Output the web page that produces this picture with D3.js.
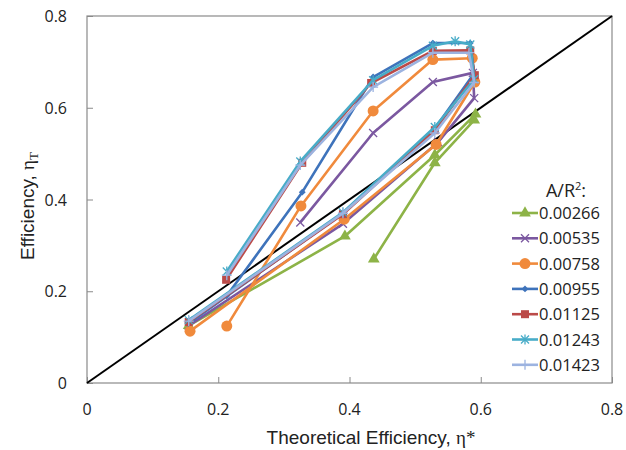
<!DOCTYPE html>
<html>
<head>
<meta charset="utf-8">
<script src="https://cdn.jsdelivr.net/npm/d3@7"></script>
<style>
  body { margin: 0; background: #fff; }
  text { font-family: "Open Sans", "Liberation Sans", Arial, sans-serif; fill: #222; }
</style>
</head>
<body>
<div id="chart"></div>
<script>
// series names (A/R^2) in legend order
var seriesNames = ["0.00266", "0.00535", "0.00758", "0.00955", "0.01125", "0.01243", "0.01423"];

// points: [theoretical efficiency, efficiency]
var s00266 = [[0.155,0.125],[0.393,0.32],[0.53,0.497],[0.592,0.586],[0.59,0.573],[0.53,0.48],[0.437,0.27]];
var s00535 = [[0.155,0.125],[0.39,0.347],[0.535,0.525],[0.59,0.621],[0.588,0.676],[0.527,0.656],[0.436,0.545],[0.325,0.35]];
var s00758 = [[0.157,0.113],[0.392,0.357],[0.532,0.52],[0.591,0.656],[0.587,0.708],[0.527,0.705],[0.436,0.593],[0.326,0.386],[0.213,0.124]];
var s00955 = [[0.155,0.13],[0.39,0.37],[0.53,0.555],[0.59,0.675],[0.584,0.741],[0.527,0.741],[0.436,0.667],[0.328,0.416],[0.213,0.19]];
var s01125 = [[0.155,0.133],[0.39,0.368],[0.53,0.551],[0.591,0.671],[0.584,0.725],[0.527,0.724],[0.433,0.654],[0.328,0.48],[0.212,0.225]];
var s01243 = [[0.155,0.137],[0.39,0.372],[0.53,0.558],[0.59,0.662],[0.584,0.738],[0.561,0.745],[0.527,0.735],[0.436,0.66],[0.325,0.483],[0.213,0.243]];
var s01423 = [[0.155,0.135],[0.39,0.37],[0.53,0.545],[0.59,0.655],[0.582,0.72],[0.527,0.72],[0.436,0.645],[0.325,0.475],[0.213,0.235]];

var seriesData = [s00266, s00535, s00758, s00955, s01125, s01243, s01423];
var colors = ["#8db347", "#7b58a0", "#f08a3c", "#3e73bb", "#bb4a48", "#48acc8", "#9cb3e0"];
var markers = ["triangle", "cross", "circle", "diamond", "square", "star", "plus"];

var xTicks = [0, 0.2, 0.4, 0.6, 0.8];
var yTicks = [0, 0.2, 0.4, 0.6, 0.8];

var width = 626, height = 450;
var margin = {left: 87, top: 16, right: 14, bottom: 67};

var svg = d3.select("#chart").append("svg")
    .attr("width", width)
    .attr("height", height);

var x = d3.scaleLinear().domain([0, 0.8]).range([margin.left, width - margin.right]);
var y = d3.scaleLinear().domain([0, 0.8]).range([height - margin.bottom, margin.top]);

// frame
svg.append("rect")
    .attr("x", x(0)).attr("y", y(0.8))
    .attr("width", x(0.8) - x(0)).attr("height", y(0) - y(0.8))
    .attr("fill", "none").attr("stroke", "#8a8a8a").attr("stroke-width", 1.2);

// axes, ticks pointing inward
svg.append("g")
    .attr("transform", "translate(0," + y(0) + ")")
    .call(d3.axisTop(x).tickValues(xTicks).tickSize(6).tickFormat(""));
svg.append("g")
    .attr("transform", "translate(" + x(0) + ",0)")
    .call(d3.axisRight(y).tickValues(yTicks).tickSize(6).tickFormat(""));
svg.selectAll(".domain").remove();
svg.selectAll(".tick line").attr("stroke", "#8a8a8a");

// tick labels
svg.selectAll(".xlab").data(xTicks).enter().append("text")
    .attr("x", function(d) { return x(d); })
    .attr("y", y(0) + 32)
    .attr("text-anchor", "middle")
    .style("font-size", "16px")
    .text(function(d) { return d === 0 ? "0" : d3.format(".1f")(d); });

svg.selectAll(".ylab").data(yTicks).enter().append("text")
    .attr("x", x(0) - 20)
    .attr("y", function(d) { return y(d) + 6; })
    .attr("text-anchor", "end")
    .style("font-size", "16px")
    .text(function(d) { return d === 0 ? "0" : d3.format(".1f")(d); });

// axis titles
var xt = svg.append("text")
    .attr("x", 371).attr("y", 444)
    .attr("text-anchor", "middle")
    .style("font-size", "19px")
    .style("font-family", "'Liberation Sans', Arial, sans-serif");
xt.append("tspan").text("Theoretical Efficiency, ");
xt.append("tspan").style("font-family", "'Liberation Serif', serif").text("η*");

var yt = svg.append("text")
    .attr("transform", "translate(34,206) rotate(-90)")
    .attr("text-anchor", "middle")
    .style("font-size", "19px")
    .style("font-family", "'Liberation Sans', Arial, sans-serif");
yt.append("tspan").text("Efficiency, ");
yt.append("tspan").style("font-family", "'Liberation Serif', serif").text("η");
yt.append("tspan").style("font-family", "'Liberation Serif', serif").style("font-size", "13px").attr("dy", 4).text("T");

// diagonal y = x
svg.append("line")
    .attr("x1", x(0)).attr("y1", y(0))
    .attr("x2", x(0.8)).attr("y2", y(0.8))
    .attr("stroke", "#000").attr("stroke-width", 2);

var line = d3.line().x(function(d) { return x(d[0]); }).y(function(d) { return y(d[1]); });

function drawMarker(g, type, cx, cy, color) {
  if (type === "triangle") {
    g.append("path").attr("d", d3.symbol(d3.symbolTriangle, 60)())
      .attr("transform", "translate(" + cx + "," + cy + ")").attr("fill", color);
  } else if (type === "circle") {
    g.append("circle").attr("cx", cx).attr("cy", cy).attr("r", 5.5).attr("fill", color);
  } else if (type === "diamond") {
    g.append("path").attr("d", d3.symbol(d3.symbolDiamond2, 30)())
      .attr("transform", "translate(" + cx + "," + cy + ")").attr("fill", color);
  } else if (type === "square") {
    g.append("rect").attr("x", cx - 4).attr("y", cy - 4).attr("width", 8).attr("height", 8).attr("fill", color);
  } else if (type === "cross") {
    g.append("path").attr("d", "M-4,-4L4,4M-4,4L4,-4")
      .attr("transform", "translate(" + cx + "," + cy + ")").attr("stroke", color).attr("stroke-width", 1.3).attr("fill", "none");
  } else if (type === "star") {
    g.append("path").attr("d", "M-4,-4L4,4M-4,4L4,-4M0,-5L0,5")
      .attr("transform", "translate(" + cx + "," + cy + ")").attr("stroke", color).attr("stroke-width", 1.3).attr("fill", "none");
  } else if (type === "plus") {
    g.append("path").attr("d", "M-5,0L5,0M0,-5L0,5")
      .attr("transform", "translate(" + cx + "," + cy + ")").attr("stroke", color).attr("stroke-width", 1.3).attr("fill", "none");
  }
}

seriesData.forEach(function(pts, i) {
  var g = svg.append("g");
  g.append("path").datum(pts)
    .attr("d", line)
    .attr("fill", "none")
    .attr("stroke", colors[i])
    .attr("stroke-width", 2.6)
    .attr("stroke-linejoin", "round");
  pts.forEach(function(p) { drawMarker(g, markers[i], x(p[0]), y(p[1]), colors[i]); });
});

// legend
var legend = svg.append("g");
var lt = legend.append("text")
    .attr("x", 566).attr("y", 197)
    .attr("text-anchor", "middle")
    .style("font-size", "18px");
lt.append("tspan").text("A/R");
lt.append("tspan").style("font-size", "11px").attr("dy", -7).text("2");
lt.append("tspan").attr("dy", 7).text(":");

seriesNames.forEach(function(name, i) {
  var ly = 213 + i * 25.3;
  legend.append("line")
    .attr("x1", 512).attr("x2", 538).attr("y1", ly).attr("y2", ly)
    .attr("stroke", colors[i]).attr("stroke-width", 2.6);
  drawMarker(legend, markers[i], 525, ly, colors[i]);
  legend.append("text")
    .attr("x", 539).attr("y", ly + 6)
    .style("font-size", "16.5px")
    .text(name);
});
</script>
</body>
</html>
